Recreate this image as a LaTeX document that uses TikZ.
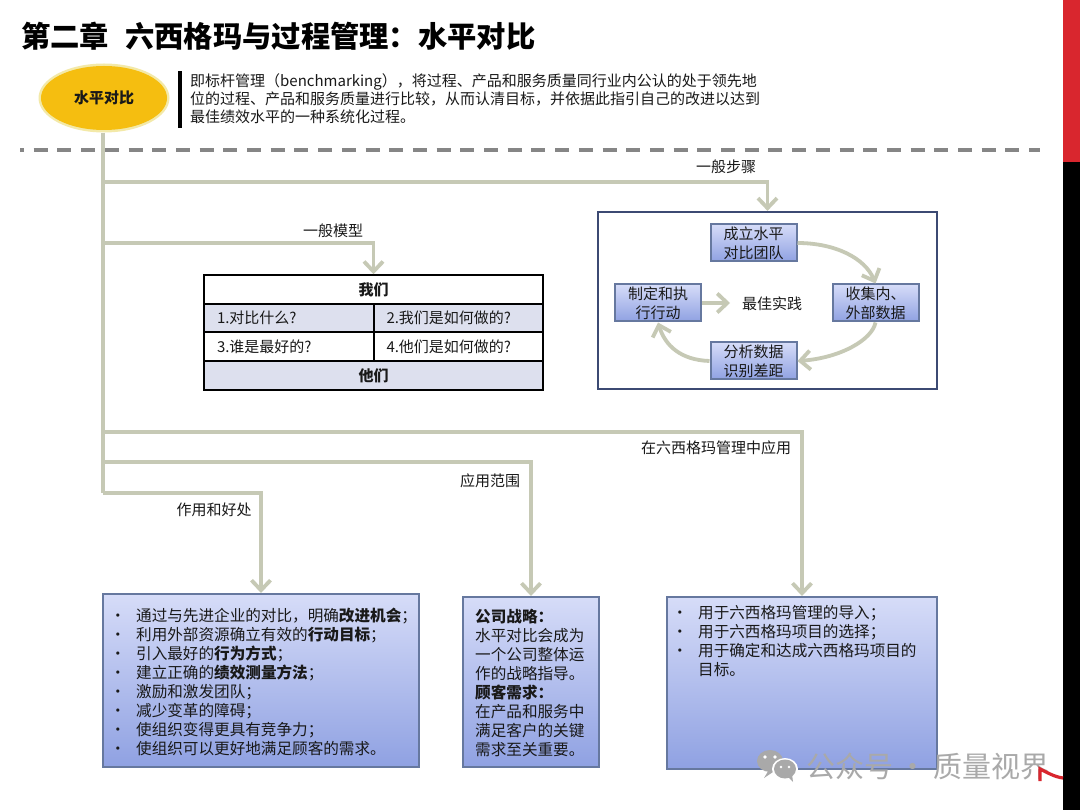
\documentclass[tikz,border=0pt]{standalone}
\usepackage{fontspec}
\setmainfont{Noto Sans CJK SC}
\usetikzlibrary{arrows.meta,shapes.geometric}
\definecolor{connc}{HTML}{C6C9B5}
\definecolor{boxedge}{HTML}{66789F}
\definecolor{boxtop}{HTML}{D6DCF8}
\definecolor{boxbot}{HTML}{8FA1E2}
\definecolor{rowc}{HTML}{DDE0EE}
\definecolor{markred}{HTML}{D9262E}
\definecolor{wm}{HTML}{A9A9A9}
\definecolor{ovalc}{HTML}{F5BE10}
\definecolor{halo}{HTML}{F3E9A8}
\definecolor{framec}{HTML}{3C4A73}
\tikzset{
  conn/.style={draw=connc,line width=3.8pt,-{Straight Barb[length=10pt,width=19pt,line width=3.8pt]}},
  trunkline/.style={draw=connc,line width=3.8pt},
  lbl/.style={font=\fontsize{15pt}{17pt}\selectfont,text=black!90,inner sep=0pt},
  gradbox/.style={rectangle,draw=boxedge,line width=2pt,top color=boxtop,bottom color=boxbot,inner sep=0pt},
  stepbox/.style={gradbox,minimum width=86pt,minimum height=37pt,align=center,font=\fontsize{15pt}{19pt}\selectfont,text=black!90},
  cell/.style={rectangle,draw=black,line width=1.8pt,minimum height=28.7pt,inner sep=0pt,font=\fontsize{15pt}{18pt}\selectfont,text=black!90},
  bodytext/.style={inner sep=0pt,align=left,font=\fontsize{15.6pt}{19pt}\selectfont,text=black!90},
}
\newcommand{\bl}{\makebox[19pt][l]{\hspace{-7pt}\textbullet}}
\begin{document}
\begin{tikzpicture}[x=1pt,y=-1pt]
\useasboundingbox (0,0) rectangle (1080,810);
\fill[white] (0,0) rectangle (1080,810);
% side stripe
\fill[markred] (1063,0) rectangle (1080,162);
\fill[black] (1063,162) rectangle (1080,810);
% title
\node[anchor=west,inner sep=0pt,font=\fontsize{29.3pt}{34pt}\selectfont\bfseries] (title) at (21,36) {第二章\hspace{0.55em}六西格玛与过程管理：水平对比};
% separator
\draw[gray!95,line width=3.6pt,dash pattern=on 14pt off 9.7pt,dash phase=10pt] (20,150) -- (1040,150);
% trunk
\coordinate (t1) at (103,182);
\coordinate (t2) at (103,243);
\coordinate (t3) at (103,432);
\coordinate (t4) at (103,462);
\coordinate (t5) at (103,493);
% oval
\node[ellipse,minimum width=131pt,minimum height=69pt,fill=halo,inner sep=0pt] (glow) at (104,98) {};
\draw[trunkline] (glow.south -| t5) -- (t5);
\node[ellipse,minimum width=126pt,minimum height=64pt,fill=ovalc,inner sep=0pt,
  font=\fontsize{15pt}{17pt}\selectfont\bfseries,text=black!90] (oval) at (104,98) {水平对比};
\fill[black] (178,71) rectangle (182,128);
\node[anchor=north west,inner sep=0pt,align=left,font=\fontsize{15pt}{18pt}\selectfont,text=black!90] (desc) at (190,73)
 {即标杆管理（benchmarking），将过程、产品和服务质量同行业内公认的处于领先地\\
  位的过程、产品和服务质量进行比较，从而认清目标，并依据此指引自己的改进以达到\\
  最佳绩效水平的一种系统化过程。};
% steps frame
\node[rectangle,draw=framec,line width=2.2pt,fill=white,minimum width=339pt,minimum height=177pt,inner sep=0pt] (frame) at (767.5,300.5) {};
\node[stepbox] (s1) at (753.5,243) {成立水平\\对比团队};
\node[stepbox] (s2) at (875.5,303) {收集内、\\外部数据};
\node[stepbox] (s3) at (753.5,361) {分析数据\\识别差距};
\node[stepbox] (s4) at (658,303) {制定和执\\行行动};
\node[lbl] (best) at (772,304) {最佳实践};
\coordinate (bestin) at (730,303);
\draw[conn] (s1.east) .. controls (835,243) and (865,258) .. (s2.north);
\draw[conn] (s2.south) .. controls (872,340) and (840,358) .. (s3.east);
\draw[conn] (s3.west) .. controls (680,360) and (665,345) .. (s4.south);
\draw[conn] (s4.east) -- (bestin);
% table
\node[cell,minimum width=339pt,font=\fontsize{15pt}{18pt}\selectfont\bfseries] (we) at (373.5,289.5) {我们};
\node[cell,minimum width=169.5pt,fill=rowc,text width=156pt,align=left] (c1) at (289,318) {\hspace*{6pt}1.对比什么?};
\node[cell,minimum width=169.5pt,fill=rowc,text width=156pt,align=left] (c2) at (458.5,318) {\hspace*{6pt}2.我们是如何做的?};
\node[cell,minimum width=169.5pt,text width=156pt,align=left] (c3) at (289,346.7) {\hspace*{6pt}3.谁是最好的?};
\node[cell,minimum width=169.5pt,text width=156pt,align=left] (c4) at (458.5,346.7) {\hspace*{6pt}4.他们是如何做的?};
\node[cell,minimum width=339pt,fill=rowc,font=\fontsize{15pt}{18pt}\selectfont\bfseries] (they) at (373.5,375.3) {他们};
% bottom boxes
\node[gradbox,minimum width=316pt,minimum height=173pt] (b1) at (261,680.5) {};
\node[gradbox,minimum width=136pt,minimum height=170pt] (b2) at (531,682) {};
\node[gradbox,minimum width=270pt,minimum height=172pt] (b3) at (802,683) {};
\node[bodytext,anchor=north west] (b1t) at (117,607.5)
{\bl 通过与先进企业的对比，明确\textbf{改进机会}；\\
 \bl 利用外部资源确立有效的\textbf{行动目标}；\\
 \bl 引入最好的\textbf{行为方式}；\\
 \bl 建立正确的\textbf{绩效测量方法}；\\
 \bl 激励和激发团队；\\
 \bl 减少变革的障碍；\\
 \bl 使组织变得更具有竞争力；\\
 \bl 使组织可以更好地满足顾客的需求。};
\node[bodytext,anchor=north west] (b2t) at (475,609)
{\textbf{公司战略：}\\
 水平对比会成为\\
 一个公司整体运\\
 作的战略指导。\\
 \textbf{顾客需求：}\\
 在产品和服务中\\
 满足客户的关键\\
 需求至关重要。};
\node[bodytext,anchor=north west] (b3t) at (679,605)
{\bl 用于六西格玛管理的导入；\\
 \bl 用于六西格玛项目的选择；\\
 \bl 用于确定和达成六西格玛项目的\\
 \makebox[19pt][l]{}目标。};
% connectors
\draw[conn] (t1) -| (frame.north);
\draw[conn] (t2) -| (we.north);
\draw[conn] (t3) -| (b3.north);
\draw[conn] (t4) -| (b2.north);
\draw[conn] (t5) -| (b1.north);
% labels
\node[lbl] (l1) at (726,167) {一般步骤};
\node[lbl] (l2) at (333,231) {一般模型};
\node[lbl] (l3) at (716,448) {在六西格玛管理中应用};
\node[lbl] (l4) at (490,481) {应用范围};
\node[lbl] (l5) at (214,510) {作用和好处};
% watermark
\fill[wm] (770,761) ellipse (13pt and 11pt);
\fill[wm] (770,768) -- (764,778) -- (776,770) -- cycle;
\fill[white] (785,769) ellipse (13pt and 11pt);
\fill[wm] (785,769) ellipse (11pt and 9.5pt);
\fill[wm] (787,776) -- (793,782) -- (792,774) -- cycle;
\fill[white] (765,757) circle (1.8pt) (775,757) circle (1.8pt) (781,767) circle (1.4pt) (789,767) circle (1.4pt);
\node[anchor=west,inner sep=0pt,text=wm,font=\fontsize{29pt}{32pt}\selectfont] (wmark) at (806,766) {公众号\hspace{0.2em}·\hspace{0.2em}质量视界};
% red mark
\draw[markred,line width=3.2pt] (1040,781) -- (1040,769) .. controls (1048,773) and (1055,777) .. (1063,778);
\end{tikzpicture}
\end{document}
